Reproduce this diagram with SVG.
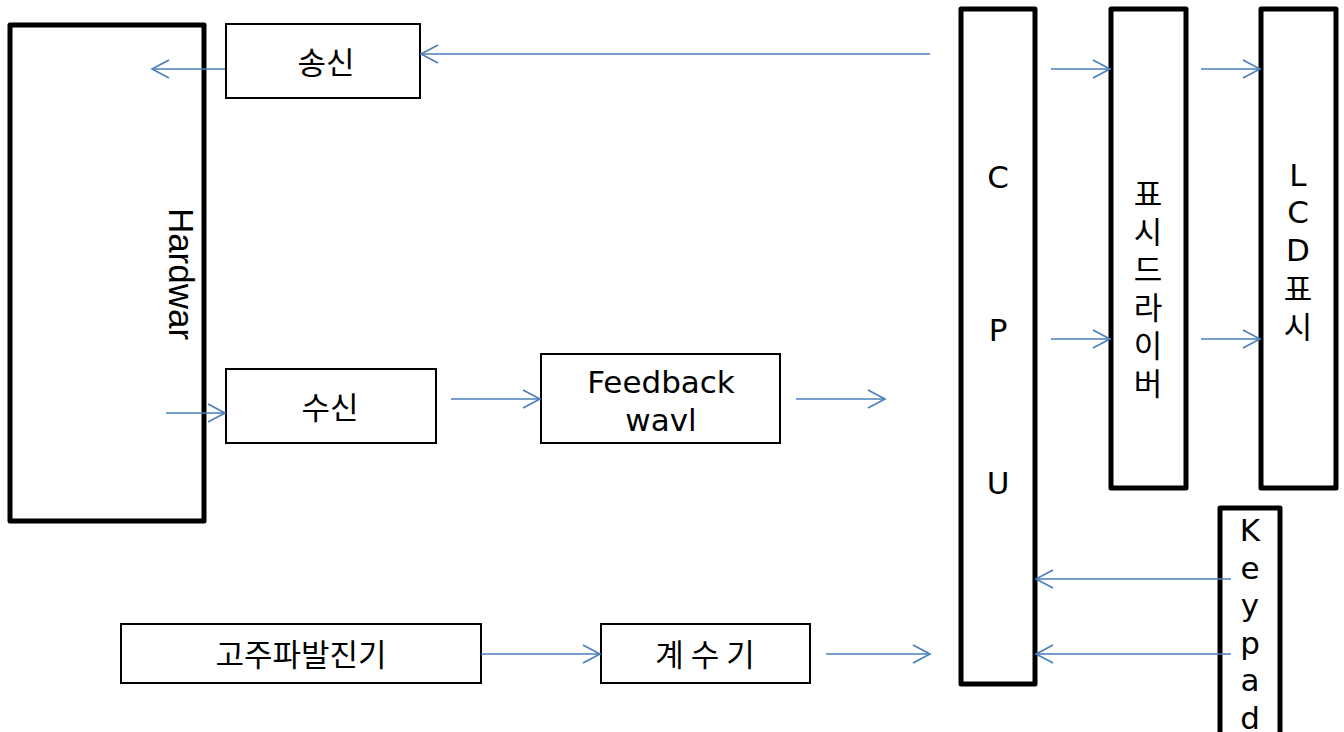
<svg xmlns="http://www.w3.org/2000/svg" width="1344" height="732" viewBox="0 0 1344 732">
  <style>
    .thin { fill: #fff; stroke: #000; stroke-width: 2; }
    .thick { fill: #fff; stroke: #000; stroke-width: 5; stroke-linejoin: round; }
    .lbl { font-family: "DejaVu Sans", "Noto Sans CJK KR", sans-serif; font-size: 31px; fill: #000; text-anchor: middle; }
    .kr { font-family: "Noto Sans CJK KR", "DejaVu Sans", sans-serif; font-size: 31px; fill: #000; text-anchor: middle; }
    .hw { font-family: "Liberation Sans", Arial, sans-serif; font-size: 35px; fill: #000; text-anchor: middle; }
    .wire { fill: none; stroke: #4a7ebb; stroke-width: 1.6; marker-end: url(#open); }
  </style>
  <defs>
    <marker id="open" viewBox="0 0 20 20" refX="18" refY="10" markerWidth="20" markerHeight="20" markerUnits="userSpaceOnUse" orient="auto">
      <path d="M1,1 L18,10 L1,19" fill="none" stroke="#4a7ebb" stroke-width="1.6"/>
    </marker>
  </defs>

  <g id="hardware">
    <rect class="thick" x="10" y="25" width="194" height="496"/>
    <text class="hw" transform="translate(169,274) rotate(90)">Hardwar</text>
  </g>

  <g id="tx">
    <rect class="thin" x="226" y="24" width="194" height="74"/>
    <text class="kr" x="326" y="74">송신</text>
  </g>

  <g id="rx">
    <rect class="thin" x="226" y="369" width="210" height="74"/>
    <text class="kr" x="330" y="419">수신</text>
  </g>

  <g id="feedback">
    <rect class="thin" x="541" y="354" width="239" height="89"/>
    <text class="lbl" x="661" y="393">Feedback</text>
    <text class="lbl" x="661" y="431">wavl</text>
  </g>

  <g id="oscillator">
    <rect class="thin" x="121" y="624" width="360" height="59"/>
    <text class="kr" x="301" y="666">고주파발진기</text>
  </g>

  <g id="counter">
    <rect class="thin" x="601" y="624" width="209" height="59"/>
    <text class="kr" x="705" y="666">계 수 기</text>
  </g>

  <g id="cpu">
    <rect class="thick" x="961" y="9" width="74" height="675"/>
    <text class="lbl" x="998" y="188">C</text>
    <text class="lbl" x="998" y="341">P</text>
    <text class="lbl" x="998" y="494">U</text>
  </g>

  <g id="display-driver">
    <rect class="thick" x="1111" y="9" width="75" height="479"/>
    <text class="kr" x="1148" y="205">표</text>
    <text class="kr" x="1148" y="243">시</text>
    <text class="kr" x="1148" y="281">드</text>
    <text class="kr" x="1148" y="319">라</text>
    <text class="kr" x="1148" y="357">이</text>
    <text class="kr" x="1148" y="395">버</text>
  </g>

  <g id="lcd">
    <rect class="thick" x="1261" y="9" width="75" height="479"/>
    <text class="lbl" x="1298" y="186">L</text>
    <text class="lbl" x="1298" y="223">C</text>
    <text class="lbl" x="1298" y="261">D</text>
    <text class="kr" x="1298" y="300">표</text>
    <text class="kr" x="1298" y="338">시</text>
  </g>

  <g id="keypad">
    <rect class="thick" x="1220" y="508" width="60" height="240"/>
    <text class="lbl" x="1250" y="541">K</text>
    <text class="lbl" x="1250" y="579">e</text>
    <text class="lbl" x="1250" y="616">y</text>
    <text class="lbl" x="1250" y="654">p</text>
    <text class="lbl" x="1250" y="691">a</text>
    <text class="lbl" x="1250" y="729">d</text>
  </g>

  <g id="connectors">
    <line class="wire" x1="930" y1="54" x2="421" y2="54"/>
    <line class="wire" x1="225" y1="69" x2="152" y2="69"/>
    <line class="wire" x1="1051" y1="69" x2="1110" y2="69"/>
    <line class="wire" x1="1201" y1="69" x2="1260" y2="69"/>
    <line class="wire" x1="1051" y1="339" x2="1110" y2="339"/>
    <line class="wire" x1="1201" y1="339" x2="1260" y2="339"/>
    <line class="wire" x1="166" y1="413" x2="225" y2="413"/>
    <line class="wire" x1="451" y1="399" x2="540" y2="399"/>
    <line class="wire" x1="796" y1="399" x2="885" y2="399"/>
    <line class="wire" x1="481" y1="654" x2="600" y2="654"/>
    <line class="wire" x1="826" y1="654" x2="930" y2="654"/>
    <line class="wire" x1="1231" y1="579" x2="1036" y2="579"/>
    <line class="wire" x1="1231" y1="654" x2="1036" y2="654"/>
  </g>
</svg>
